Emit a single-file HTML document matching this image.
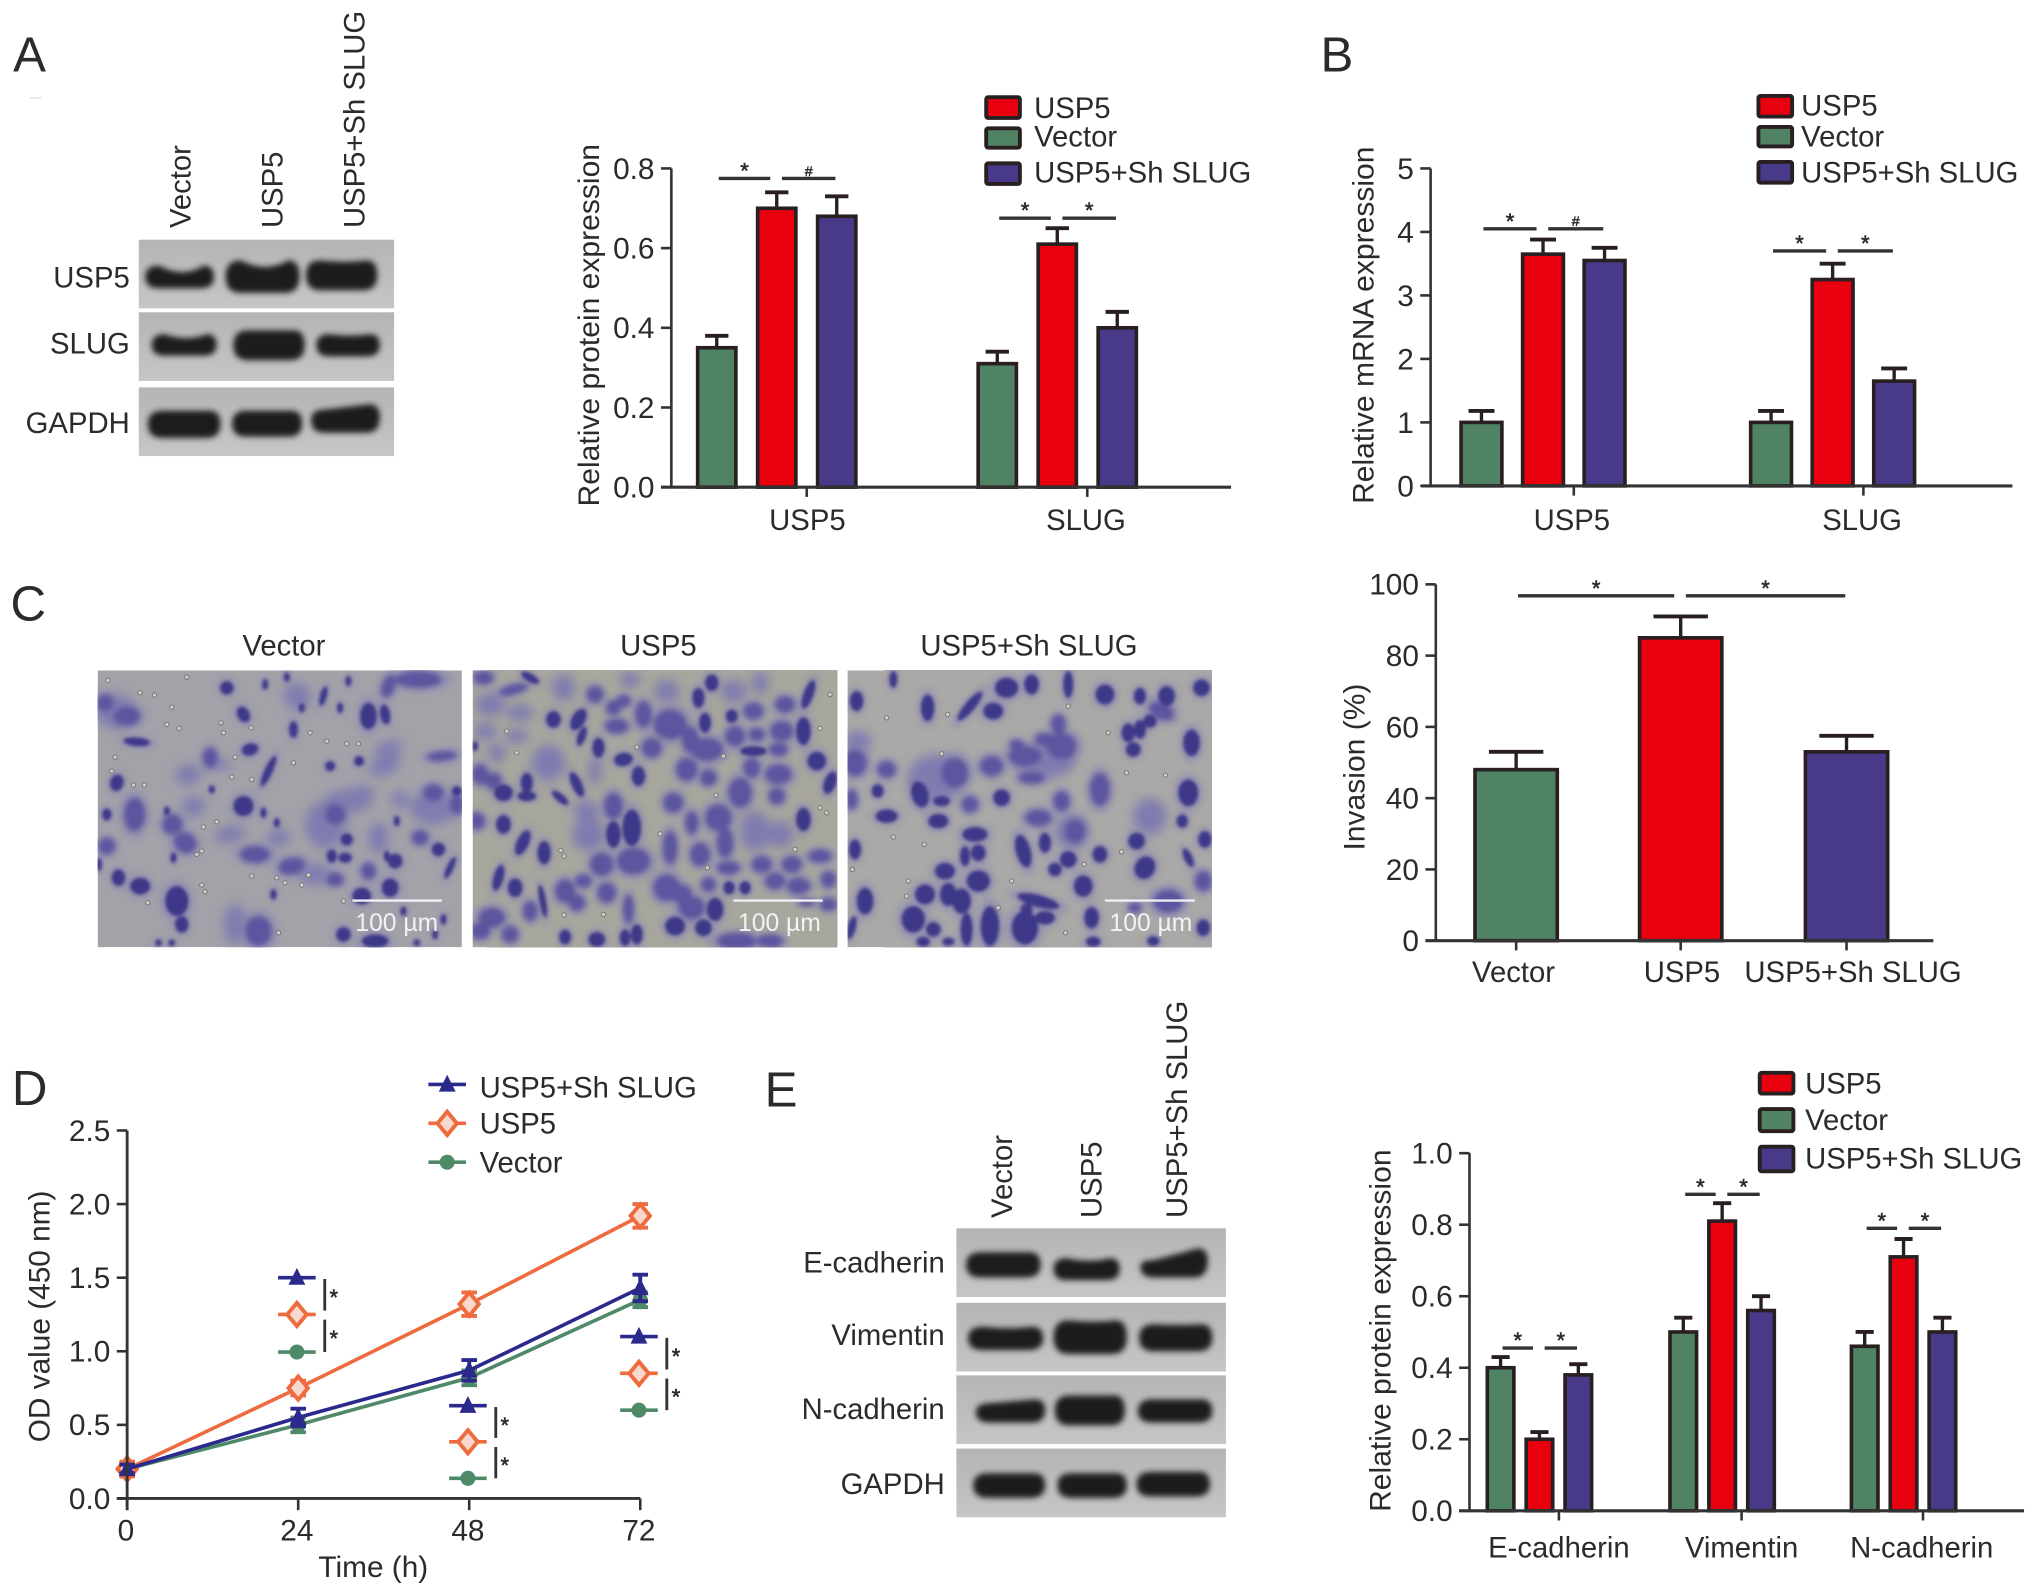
<!DOCTYPE html>
<html>
<head>
<meta charset="utf-8">
<title>USP5 SLUG figure</title>
<style>
html,body{margin:0;padding:0;background:#fff;}
svg{display:block;}
text{font-family:"Liberation Sans",sans-serif;fill:#2b2b2b;}
</style>
</head>
<body>
<svg id="fig" xmlns="http://www.w3.org/2000/svg" width="2032" height="1595" viewBox="0 0 1568 1231">
<defs>
<filter id="blur-blot" x="-20%" y="-50%" width="140%" height="200%"><feGaussianBlur stdDeviation="2.2"/></filter>
<filter id="blur-dark"><feGaussianBlur stdDeviation="5"/></filter>
<filter id="blur-mid"><feGaussianBlur stdDeviation="8"/></filter>
<filter id="blur-light"><feGaussianBlur stdDeviation="16"/></filter>
<filter id="blur-halo"><feGaussianBlur stdDeviation="10"/></filter>
<linearGradient id="blot-bg" x1="0" y1="0" x2="0" y2="1"><stop offset="0" stop-color="#b4b4b4"/><stop offset="0.5" stop-color="#bdbdbd"/><stop offset="1" stop-color="#c6c6c6"/></linearGradient>
<clipPath id="micro-clip"><rect x="8" y="8" width="1092" height="830"/></clipPath>
</defs>
<text x="10" y="55" font-size="38">A</text>
<text x="1019" y="55" font-size="38">B</text>
<text x="8" y="479" font-size="38">C</text>
<text x="9" y="853" font-size="38">D</text>
<text x="590" y="854" font-size="38">E</text>
<rect x="23" y="75" width="9" height="1" fill="#ddd"/>
<text x="219" y="506" font-size="22.6" text-anchor="middle">Vector</text>
<text x="508" y="506" font-size="22.6" text-anchor="middle">USP5</text>
<text x="794" y="506" font-size="22.6" text-anchor="middle">USP5+Sh SLUG</text>
</svg>
<script>
// ---------- Panel A values ----------
const aCategories = ['USP5', 'SLUG'];
const aTickLabels = ['0.0', '0.2', '0.4', '0.6', '0.8'];
const aTickValues = [0, 0.2, 0.4, 0.6, 0.8];
const aVector = [0.35, 0.31];
const aUsp5 = [0.70, 0.61];
const aSh = [0.68, 0.40];
const aVectorErr = [0.03, 0.03];
const aUsp5Err = [0.04, 0.04];
const aShErr = [0.05, 0.04];
const aSigLevels = [0.775, 0.675];
const aSigMarks = [['*', '#'], ['*', '*']];
// ---------- Panel B values ----------
const bCategories = ['USP5', 'SLUG'];
const bTickLabels = ['0', '1', '2', '3', '4', '5'];
const bTickValues = [0, 1, 2, 3, 4, 5];
const bVector = [1.0, 1.0];
const bUsp5 = [3.65, 3.25];
const bSh = [3.55, 1.65];
const bVectorErr = [0.18, 0.18];
const bUsp5Err = [0.23, 0.25];
const bShErr = [0.2, 0.2];
const bSigLevels = [4.05, 3.7];
const bSigMarks = [['*', '#'], ['*', '*']];
// ---------- Panel C values ----------
const cCategories = ['Vector', 'USP5', 'USP5+Sh SLUG'];
const cTickLabels = ['0', '20', '40', '60', '80', '100'];
const cTickValues = [0, 20, 40, 60, 80, 100];
const cInvasion = [48, 85, 53];
const cInvasionErr = [5, 6, 4.5];
const cSigLevel = 96.8;
const cSigMarks = ['*', '*'];
// ---------- Panel D values ----------
const dTimes = [0, 24, 48, 72];
const dTickLabels = ['0.0', '0.5', '1.0', '1.5', '2.0', '2.5'];
const dTickValues = [0, 0.5, 1, 1.5, 2, 2.5];
const dVector = [0.20, 0.50, 0.82, 1.35];
const dUsp5 = [0.20, 0.75, 1.32, 1.92];
const dSh = [0.20, 0.55, 0.87, 1.43];
const dVectorErr = [0.03, 0.05, 0.05, 0.05];
const dUsp5Err = [0.05, 0.05, 0.08, 0.08];
const dShErr = [0.03, 0.06, 0.07, 0.09];
const dKeyTimes = [24, 48, 72];
const dKeySh = [1.50, 0.63, 1.10];
const dKeyUsp5 = [1.25, 0.385, 0.85];
const dKeyVector = [0.995, 0.137, 0.60];
// ---------- Panel E values ----------
const eCategories = ['E-cadherin', 'Vimentin', 'N-cadherin'];
const eTickLabels = ['0.0', '0.2', '0.4', '0.6', '0.8', '1.0'];
const eTickValues = [0, 0.2, 0.4, 0.6, 0.8, 1.0];
const eVector = [0.40, 0.50, 0.46];
const eUsp5 = [0.20, 0.81, 0.71];
const eSh = [0.38, 0.56, 0.50];
const eVectorErr = [0.03, 0.04, 0.04];
const eUsp5Err = [0.02, 0.05, 0.05];
const eShErr = [0.03, 0.04, 0.04];
const eSigLevels = [0.455, 0.885, 0.79];
const eSigMarks = [['*', '*'], ['*', '*'], ['*', '*']];

const GREEN = '#4f8363', RED = '#e8000f', BLUE = '#483a88', EDGE = '#2a1f20', AXIS = '#333';
const NS = 'http://www.w3.org/2000/svg';
const fig = document.getElementById('fig');

function mk(tag, attrs, parent) {
  const n = document.createElementNS(NS, tag);
  for (const k in attrs) n.setAttribute(k, attrs[k]);
  (parent || fig).appendChild(n);
  return n;
}
function txt(str, attrs, parent) {
  const n = mk('text', attrs, parent);
  n.textContent = str;
  return n;
}

function drawLegend(items, parent) {
  items.forEach(function (it) {
    const sw = mk('rect', {x: it.x, y: it.y, width: it.w, height: it.h, fill: it.color, stroke: EDGE, 'stroke-width': 3, rx: 1.5}, parent);
    
    
    const t = txt(it.label, {x: it.tx, y: it.ty, 'font-size': 22.6}, parent);
    
    
  });
}

function barChart(o) {
  const g = mk('g', {});
  
  
  const yFor = function (v) { return o.y0 + (v - o.vMin) * (o.yMax - o.y0) / (o.vMax - o.vMin); };

  o.series.forEach(function (s, si) {
    s.values.forEach(function (v, ci) {
      const color = o.single ? o.colors[ci] : s.color;
      const cx = o.ticksX[ci] + (o.single ? 0 : (si - 1.5) * o.step);
      const top = yFor(v);
      const errTop = yFor(v + s.errs[ci]);
      const stem = mk('line', {x1: cx, x2: cx, y1: top, y2: errTop, stroke: EDGE, 'stroke-width': 2.6}, g);
      
      
      const cap = mk('line', {x1: cx - o.cap, x2: cx + o.cap, y1: errTop, y2: errTop, stroke: EDGE, 'stroke-width': 3}, g);
      
      
      const bar = mk('rect', {x: cx - o.barW / 2, y: top, width: o.barW, height: o.y0 - top, fill: color, stroke: EDGE, 'stroke-width': 2.8}, g);
      
      
    });
  });

  const yAxis = mk('line', {x1: o.axisX, x2: o.axisX, y1: yFor(o.vMax), y2: o.y0, stroke: AXIS, 'stroke-width': 2}, g);
  
  
  const xAxis = mk('line', {x1: o.xStart, x2: o.xEnd, y1: o.y0, y2: o.y0, stroke: AXIS, 'stroke-width': 2.4}, g);
  
  

  o.tickValues.forEach(function (v, i) {
    const y = yFor(v);
    const t = mk('line', {x1: o.axisX - 8, x2: o.axisX, y1: y, y2: y, stroke: AXIS, 'stroke-width': 2}, g);
    
    
    const l = txt(o.tickLabels[i], {x: o.axisX - 13, y: y + 8, 'font-size': 23, 'text-anchor': 'end'}, g);
    
    
  });
  o.categories.forEach(function (c, i) {
    const t = mk('line', {x1: o.ticksX[i], x2: o.ticksX[i], y1: o.y0, y2: o.y0 + 7.5, stroke: AXIS, 'stroke-width': 2}, g);
    
    
    const l = txt(c, {x: o.labelX[i], y: o.labelY, 'font-size': 22.6, 'text-anchor': 'middle'}, g);
    
    
  });
  const title = txt(o.title, {transform: 'translate(' + o.titleX + ' ' + o.titleY + ') rotate(-90)', 'font-size': 23.2, 'text-anchor': 'middle'}, g);
  
  

  o.sigGroups.forEach(function (sg) {
    const y = yFor(sg.level);
    const spans = [[sg.c0 + 1.5, sg.c1 - 5], [sg.c1 + 4, sg.c2 - 1]];
    spans.forEach(function (sp, k) {
      const line = mk('line', {x1: sp[0], x2: sp[1], y1: y, y2: y, stroke: AXIS, 'stroke-width': 2.6}, g);
      
      
      const m = txt(sg.marks[k], {x: (sp[0] + sp[1]) / 2, y: y - (sg.marks[k] === '#' ? 2 : 0), 'font-size': sg.marks[k] === '#' ? 11 : 17, 'text-anchor': 'middle', stroke: '#2b2b2b', 'stroke-width': 0.4}, g);
      
      
    });
  });
  return g;
}

function centers(tick, step) { return {c0: tick - 1.5 * step, c1: tick - 0.5 * step, c2: tick + 0.5 * step}; }
function sigs(ticks, step, levels, marks) {
  return ticks.map(function (t, i) {
    const c = centers(t, step);
    return {c0: c.c0, c1: c.c1, c2: c.c2, level: levels[i], marks: marks[i]};
  });
}

// Panel A chart
const aTicksX = [622.5, 839];
barChart({
  name: 'panel-a-protein-chart', categories: aCategories, tickLabels: aTickLabels, tickValues: aTickValues,
  vMin: 0, vMax: 0.8, y0: 376, yMax: 130, axisX: 518, xStart: 510, xEnd: 950, ticksX: aTicksX, labelX: [623, 838], labelY: 409,
  step: 46.3, barW: 29.5, cap: 9, title: 'Relative protein expression', titleX: 462, titleY: 251,
  series: [{values: aVector, errs: aVectorErr, color: GREEN}, {values: aUsp5, errs: aUsp5Err, color: RED}, {values: aSh, errs: aShErr, color: BLUE}],
  sigGroups: sigs(aTicksX, 46.3, aSigLevels, aSigMarks)
});
drawLegend([
  {x: 761, y: 75, w: 26, h: 16, color: RED, label: 'USP5', tx: 798, ty: 91},
  {x: 761, y: 99, w: 26, h: 15, color: GREEN, label: 'Vector', tx: 798, ty: 113},
  {x: 761, y: 126, w: 26, h: 16, color: BLUE, label: 'USP5+Sh SLUG', tx: 798, ty: 141}
]);

// Panel B chart
const bTicksX = [1214.5, 1438];
barChart({
  name: 'panel-b-mrna-chart', categories: bCategories, tickLabels: bTickLabels, tickValues: bTickValues,
  vMin: 0, vMax: 5, y0: 375, yMax: 130, axisX: 1104, xStart: 1097, xEnd: 1553, ticksX: bTicksX, labelX: [1213, 1437], labelY: 409,
  step: 47.5, barW: 31.5, cap: 10, title: 'Relative mRNA expression', titleX: 1060, titleY: 251,
  series: [{values: bVector, errs: bVectorErr, color: GREEN}, {values: bUsp5, errs: bUsp5Err, color: RED}, {values: bSh, errs: bShErr, color: BLUE}],
  sigGroups: sigs(bTicksX, 47.5, bSigLevels, bSigMarks)
});
drawLegend([
  {x: 1357, y: 74, w: 26, h: 16, color: RED, label: 'USP5', tx: 1390, ty: 89},
  {x: 1357, y: 98, w: 26, h: 15, color: GREEN, label: 'Vector', tx: 1390, ty: 113},
  {x: 1357, y: 125, w: 26, h: 16, color: BLUE, label: 'USP5+Sh SLUG', tx: 1390, ty: 141}
]);

// Panel C chart
const cTicksX = [1170, 1297, 1425];
barChart({
  name: 'panel-c-invasion-chart', categories: cCategories, tickLabels: cTickLabels, tickValues: cTickValues,
  vMin: 0, vMax: 100, y0: 726, yMax: 451, axisX: 1108, xStart: 1100, xEnd: 1492, ticksX: cTicksX, labelX: [1168, 1298, 1430], labelY: 758,
  step: 0, barW: 63.5, cap: 21, single: true, colors: [GREEN, RED, BLUE], title: 'Invasion (%)', titleX: 1053, titleY: 592,
  series: [{values: cInvasion, errs: cInvasionErr}],
  sigGroups: [{c0: cTicksX[0], c1: cTicksX[1], c2: cTicksX[2], level: cSigLevel, marks: cSigMarks}]
});

// Panel E chart
const eTicksX = [1203, 1344, 1484];
barChart({
  name: 'panel-e-protein-chart', categories: eCategories, tickLabels: eTickLabels, tickValues: eTickValues,
  vMin: 0, vMax: 1, y0: 1166, yMax: 890, axisX: 1134, xStart: 1126, xEnd: 1562, ticksX: eTicksX, labelX: [1203, 1344, 1483], labelY: 1202,
  step: 30, barW: 20.5, cap: 7, title: 'Relative protein expression', titleX: 1073, titleY: 1027,
  series: [{values: eVector, errs: eVectorErr, color: GREEN}, {values: eUsp5, errs: eUsp5Err, color: RED}, {values: eSh, errs: eShErr, color: BLUE}],
  sigGroups: sigs(eTicksX, 30, eSigLevels, eSigMarks)
});
drawLegend([
  {x: 1358, y: 828, w: 26, h: 16, color: RED, label: 'USP5', tx: 1393, ty: 844},
  {x: 1358, y: 856, w: 26, h: 17, color: GREEN, label: 'Vector', tx: 1393, ty: 872},
  {x: 1358, y: 885, w: 26, h: 19, color: BLUE, label: 'USP5+Sh SLUG', tx: 1393, ty: 902}
]);

// Panel D line chart
(function () {
  const g = mk('g', {});
  
  
  const xOf = function (t) { return 98 + t * (494 - 98) / 72; };
  const yOf = function (v) { return 1156.5 - v * (1156.5 - 872.5) / 2.5; };
  const SH = '#2b2a8c', OR = '#ee6b3e', VE = '#4f8a68';

  function marker(kind, x, y, parent) {
    if (kind === 'tri') {
      const m = mk('polygon', {points: (x - 6.5) + ',' + (y + 5.5) + ' ' + (x + 6.5) + ',' + (y + 5.5) + ' ' + x + ',' + (y - 7.5), fill: SH}, parent);
      
      
    } else if (kind === 'dia') {
      const m = mk('polygon', {points: (x - 7.5) + ',' + y + ' ' + x + ',' + (y - 9) + ' ' + (x + 7.5) + ',' + y + ' ' + x + ',' + (y + 9), fill: '#f9d9cd', stroke: OR, 'stroke-width': 3}, parent);
      
      
    } else {
      const m = mk('circle', {cx: x, cy: y, r: 5.8, fill: VE}, parent);
      
      
    }
  }
  const series = [
    {vals: dVector, errs: dVectorErr, color: VE, kind: 'cir'},
    {vals: dUsp5, errs: dUsp5Err, color: OR, kind: 'dia'},
    {vals: dSh, errs: dShErr, color: SH, kind: 'tri'}
  ];
  series.forEach(function (s) {
    const path = mk('polyline', {points: dTimes.map(function (t, i) { return xOf(t) + ',' + yOf(s.vals[i]); }).join(' '), fill: 'none', stroke: s.color, 'stroke-width': 2.8}, g);
    
    
    dTimes.forEach(function (t, i) {
      const x = xOf(t), hi = yOf(s.vals[i] + s.errs[i]), lo = yOf(s.vals[i] - s.errs[i]);
      const e = mk('path', {d: 'M' + (x - 6) + ' ' + hi + 'H' + (x + 6) + 'M' + x + ' ' + hi + 'V' + lo + 'M' + (x - 6) + ' ' + lo + 'H' + (x + 6), stroke: s.color, 'stroke-width': 3, fill: 'none'}, g);
      
      
      marker(s.kind, x, yOf(s.vals[i]), g);
    });
  });

  const yAxis = mk('line', {x1: 98, x2: 98, y1: yOf(2.5), y2: yOf(0) + 9, stroke: AXIS, 'stroke-width': 2.2}, g);
  
  
  const xAxis = mk('line', {x1: 90, x2: xOf(72), y1: yOf(0), y2: yOf(0), stroke: AXIS, 'stroke-width': 2.2}, g);
  
  
  dTickValues.forEach(function (v, i) {
    const y = yOf(v);
    const t = mk('line', {x1: 90, x2: 98, y1: y, y2: y, stroke: AXIS, 'stroke-width': 2}, g);
    
    
    const l = txt(dTickLabels[i], {x: 85, y: y + 8, 'font-size': 23, 'text-anchor': 'end'}, g);
    
    
  });
  dTimes.forEach(function (tv) {
    const x = xOf(tv);
    const t = mk('line', {x1: x, x2: x, y1: yOf(0), y2: yOf(0) + 9, stroke: AXIS, 'stroke-width': 2}, g);
    
    
    const l = txt(String(tv), {x: x - 1, y: 1189, 'font-size': 23, 'text-anchor': 'middle'}, g);
    
    
  });
  const xt = txt('Time (h)', {x: 288, y: 1217, 'font-size': 23, 'text-anchor': 'middle'}, g);
  
  
  const yt = txt('OD value (450 nm)', {transform: 'translate(38 1016) rotate(-90)', 'font-size': 23, 'text-anchor': 'middle'}, g);
  
  

  function keyRow(kind, color, x, y) {
    const l = mk('line', {x1: x - 14.5, x2: x + 14.5, y1: y, y2: y, stroke: color, 'stroke-width': 2.8}, g);
    
    
    marker(kind, x, y, g);
  }
  dKeyTimes.forEach(function (t, i) {
    const x = xOf(t) - 1;
    const ys = [yOf(dKeySh[i]), yOf(dKeyUsp5[i]), yOf(dKeyVector[i])];
    keyRow('tri', SH, x, ys[0]);
    keyRow('dia', OR, x, ys[1]);
    keyRow('cir', VE, x, ys[2]);
    [[ys[0] + 1, ys[1] - 3], [ys[1] + 4, ys[2]]].forEach(function (sp) {
      const b = mk('line', {x1: x + 21.5, x2: x + 21.5, y1: sp[0], y2: sp[1], stroke: AXIS, 'stroke-width': 2.2}, g);
      
      
      const s = txt('*', {x: x + 28.5, y: (sp[0] + sp[1]) / 2 + 8, 'font-size': 17, 'text-anchor': 'middle', stroke: '#2b2b2b', 'stroke-width': 0.4}, g);
      
      
    });
  });

  const legendRows = [
    {kind: 'tri', color: SH, label: 'USP5+Sh SLUG', y: 837, ty: 847},
    {kind: 'dia', color: OR, label: 'USP5', y: 867, ty: 875},
    {kind: 'cir', color: VE, label: 'Vector', y: 897, ty: 905}
  ];
  legendRows.forEach(function (r) {
    keyRow(r.kind, r.color, 345, r.y);
    const t = txt(r.label, {x: 370, y: r.ty, 'font-size': 22.6}, g);
    
    
  });
})();

// ---------- Western blots ----------
function bandPath(b) {
  const x0 = b[0], x1 = b[1], y0 = b[2], y1 = b[3], dip = b[4] || 0, tilt = b[5] || 0;
  const w = x1 - x0, ym = (y0 + y1) / 2;
  return 'M' + x0 + ' ' + (ym + tilt * .3) +
    'Q' + x0 + ' ' + (y0 + tilt) + ' ' + (x0 + w * .2) + ' ' + (y0 + tilt) +
    'Q' + (x0 + w * .55) + ' ' + (y0 + dip * 2 + tilt * .5) + ' ' + (x1 - w * .15) + ' ' + y0 +
    'Q' + x1 + ' ' + y0 + ' ' + x1 + ' ' + (ym - tilt * .2) +
    'Q' + x1 + ' ' + y1 + ' ' + (x1 - w * .2) + ' ' + y1 +
    'L' + (x0 + w * .2) + ' ' + y1 +
    'Q' + x0 + ' ' + y1 + ' ' + x0 + ' ' + (ym + tilt * .3) + 'Z';
}
function blot(name, x, w, rows, labelRight) {
  const g = mk('g', {});
  
  
  rows.forEach(function (r) {
    const bg = mk('rect', {x: x, y: r.y, width: w, height: r.h, fill: 'url(#blot-bg)'}, g);
    
    
    r.bands.forEach(function (b) {
      const p = mk('path', {d: bandPath(b), fill: '#1d1d1f', filter: 'url(#blur-blot)'}, g);
      
      
    });
    const l = txt(r.label, {x: labelRight, y: r.ty, 'font-size': 22.6, 'text-anchor': 'end'}, g);
    
    
  });
}
blot('western-blot-a', 107, 197, [
  {label: 'USP5', y: 185, h: 53, ty: 222, bands: [[112, 165, 205, 222.5, 5], [174, 231, 201, 226, 5], [236, 291, 201, 224, 1]]},
  {label: 'SLUG', y: 241, h: 53, ty: 273, bands: [[117, 167, 258, 274.5, 3], [180, 235, 255, 278, 0], [244, 293, 258, 275, 1]]},
  {label: 'GAPDH', y: 299, h: 53, ty: 334, bands: [[114, 170, 317, 338, 0], [179, 233, 317, 337, 0], [240, 293, 312, 334, 0, 4]]}
], 100);
blot('western-blot-e', 738, 208, [
  {label: 'E-cadherin', y: 948, h: 53, ty: 982, bands: [[745.5, 803, 966.5, 986, 0], [813, 864, 971, 988, 2], [880, 932, 963.5, 986, 0, 9]]},
  {label: 'Vimentin', y: 1005.5, h: 53, ty: 1038, bands: [[747, 805, 1024, 1042, 1], [813, 869.5, 1019, 1045, 1], [879, 935.5, 1022, 1043, 0.5]]},
  {label: 'N-cadherin', y: 1061.5, h: 53, ty: 1095, bands: [[753, 806.5, 1080, 1098, 0, 3], [814, 868, 1077, 1100, 0], [878, 935.5, 1080, 1098, 0]]},
  {label: 'GAPDH', y: 1118, h: 53, ty: 1153, bands: [[751, 806.5, 1137, 1156, 0], [816, 869.5, 1137, 1156, 0], [877, 933.6, 1136, 1155, 0]]}
], 729);

const laneLabels = [
  ['Vector', 147, 176], ['USP5', 218, 176], ['USP5+Sh SLUG', 281, 176],
  ['Vector', 781, 940], ['USP5', 850, 940], ['USP5+Sh SLUG', 916, 940]
];
laneLabels.forEach(function (a) {
  const t = txt(a[0], {transform: 'translate(' + a[1] + ' ' + a[2] + ') rotate(-90)', 'font-size': 22.6}, fig);
  
  
});

// ---------- Micrographs (cell centre x, y, radius x, radius y, rotation) ----------
const micro1Dark = [[395,60,20,20,0],[685,85,10,30,15],[445,140,18,25,-30],[595,185,13,25,0],[125,222,40,13,5],[820,145,25,40,0],[870,140,15,30,-10],[465,245,25,18,-15],[520,310,12,50,25],[705,295,15,15,0],[792,280,15,15,0],[65,345,20,25,15],[445,415,30,30,0],[70,630,20,25,0],[135,655,30,25,0],[245,700,35,45,0],[260,770,20,25,0],[710,565,15,20,0],[750,570,20,15,0],[755,515,18,18,0],[900,580,22,22,0],[885,660,25,28,0],[800,685,28,25,0],[1030,545,20,20,0],[1065,600,10,35,25],[745,800,22,22,0],[840,820,40,20,0],[12,590,8,20,0],[510,50,9,16,0],[735,120,9,16,0],[760,40,9,16,0],[575,28,9,14,0],[620,120,9,14,0],[905,460,9,16,0],[875,565,9,16,0],[925,730,9,14,0],[1045,755,9,16,0],[1020,800,9,14,0],[965,825,10,10,0],[230,825,10,10,0],[190,825,10,10,0],[535,680,9,16,0],[235,570,9,16,0],[350,365,9,12,0],[505,435,9,16,0],[545,465,9,14,0],[215,430,9,14,0],[35,440,14,18,0],[1085,370,15,15,0]];
const micro1Mid = [[95,145,40,28,0],[30,105,25,25,0],[880,55,20,35,20],[970,35,70,25,0],[118,440,32,50,0],[232,470,30,30,0],[270,525,35,30,30],[480,560,45,25,0],[590,595,40,25,-10],[35,535,25,25,0],[720,440,30,30,0],[820,610,22,25,0],[720,635,25,20,0],[975,510,25,22,0],[1085,410,20,30,0],[490,790,40,45,0],[1040,265,45,15,-5],[345,270,22,30,0],[1015,375,30,25,0]];
const micro1Light = [[60,130,60,50,0],[605,85,40,40,0],[280,320,40,30,-20],[375,290,35,15,15],[870,290,50,30,-30],[880,240,45,20,-15],[295,415,35,30,0],[405,500,45,25,-10],[550,510,35,25,0],[690,470,60,70,0],[760,400,70,35,0],[915,395,25,25,0],[1015,420,70,50,0],[420,770,35,60,0],[800,375,40,20,0],[850,510,30,45,0],[660,620,50,30,0]];
const micro1Rings = [[38,38],[275,28],[135,75],[178,82],[230,118],[215,170],[252,182],[378,165],[385,195],[468,180],[645,195],[695,220],[755,228],[790,228],[60,268],[420,268],[595,285],[410,328],[470,335],[115,352],[148,352],[325,478],[365,462],[305,560],[320,550],[470,625],[545,630],[570,645],[620,652],[640,622],[320,652],[330,672],[158,705],[745,700],[550,795],[50,310]];

const micro2Dark = [[725,45,20,25,0],[325,155,20,35,30],[335,205,12,30,20],[250,155,22,25,0],[385,240,18,30,0],[460,275,28,20,-10],[505,325,20,30,0],[100,375,28,25,0],[170,385,28,15,0],[170,345,18,30,0],[270,390,30,12,40],[320,350,15,40,-25],[485,480,28,55,0],[430,500,22,40,0],[100,470,22,28,0],[158,525,18,40,25],[222,555,20,35,0],[85,630,15,40,15],[135,660,22,28,0],[218,700,10,50,-10],[285,808,18,22,0],[380,815,25,22,0],[465,810,16,25,0],[500,800,18,30,0],[615,775,30,28,0],[700,780,25,25,0],[735,725,25,35,0],[777,660,17,20,0],[825,660,17,20,0],[1000,455,22,35,0],[1015,80,15,45,20],[1040,280,28,28,0],[1080,345,18,35,20],[685,90,18,30,0],[705,165,18,30,0],[785,145,18,20,0],[850,250,40,15,0],[1000,190,22,42,0],[15,235,8,15,0],[180,30,30,12,30]];
const micro2Mid = [[610,405,30,30,0],[40,30,30,20,0],[130,65,45,15,-15],[375,80,25,25,0],[460,100,22,18,0],[430,120,22,22,0],[440,175,35,22,0],[520,140,25,40,0],[600,170,50,45,0],[660,215,25,40,0],[545,240,30,30,0],[710,245,50,35,0],[650,305,32,35,0],[715,330,25,25,0],[850,130,30,25,0],[935,190,35,30,0],[945,110,30,25,0],[795,205,30,30,0],[860,200,25,20,0],[925,245,28,20,0],[845,300,25,30,0],[925,320,40,30,0],[810,375,35,45,0],[920,385,25,25,0],[745,450,40,40,0],[665,465,20,35,0],[765,525,25,45,0],[690,560,30,35,0],[600,540,22,50,0],[775,600,35,20,0],[875,590,30,25,0],[965,590,30,25,0],[1050,565,35,20,0],[915,640,30,25,0],[985,655,35,25,0],[1075,635,22,25,0],[1075,710,25,20,0],[1010,705,25,10,0],[490,580,50,40,0],[395,590,35,35,0],[430,415,28,40,0],[340,640,25,20,0],[285,670,30,35,0],[320,705,25,25,0],[410,675,28,30,0],[180,730,22,30,0],[475,725,16,45,0],[590,660,40,40,0],[635,680,30,30,0],[665,720,40,35,0],[715,650,22,22,0],[20,460,25,25,0],[70,340,25,25,0],[30,320,25,30,0],[65,750,40,30,0],[120,800,25,25,0],[30,790,30,25,0],[800,820,60,25,0],[900,820,40,20,0]];
const micro2Light = [[60,110,45,35,0],[150,135,40,25,0],[45,190,35,25,0],[140,205,35,22,0],[280,60,35,40,0],[480,35,30,25,0],[590,70,38,35,0],[790,70,40,35,0],[870,45,25,35,0],[235,285,50,55,0],[80,255,25,30,0],[375,310,20,40,0],[355,500,50,50,0],[855,490,45,60,0],[350,430,40,30,0],[930,500,40,40,0]];
const micro2Rings = [[500,238],[760,265],[738,382],[1050,182],[1080,80],[570,498],[272,548],[282,565],[712,600],[400,740],[282,742],[110,190],[140,255],[1050,420],[1070,435],[975,545]];

const micro3Dark = [[35,100,20,30,0],[145,35,12,25,0],[248,120,20,40,0],[375,115,15,55,40],[485,60,35,30,0],[445,130,30,25,0],[560,50,22,30,0],[780,80,28,30,0],[885,85,18,25,0],[965,85,25,30,0],[1070,60,25,25,0],[670,50,15,40,0],[1040,225,25,40,0],[1030,375,30,40,0],[865,245,22,22,0],[850,195,20,28,0],[885,185,18,28,0],[915,160,20,20,0],[98,370,18,20,0],[225,380,25,40,-15],[125,445,33,20,0],[280,460,30,22,0],[290,400,25,15,0],[470,390,25,25,0],[390,500,38,22,0],[360,565,15,30,0],[400,555,22,25,0],[300,610,30,25,0],[400,640,35,32,0],[535,550,22,50,-15],[600,525,18,30,0],[670,575,25,25,0],[630,605,20,20,0],[765,560,22,25,0],[875,520,25,25,0],[900,600,30,35,30],[1030,570,12,30,-25],[1012,460,17,20,0],[1080,515,20,25,0],[715,655,28,32,0],[740,750,22,32,0],[60,700,25,40,0],[240,680,30,30,0],[310,680,25,35,0],[350,700,28,38,0],[205,755,35,40,0],[265,785,22,22,0],[365,785,18,50,0],[435,775,28,60,0],[540,780,40,50,0],[580,700,65,18,15],[600,750,30,20,0],[545,725,18,18,0],[745,822,22,15,0],[1075,780,20,25,0],[30,545,18,30,0],[20,780,12,35,15],[310,822,18,12,0],[235,822,20,15,0],[925,820,18,15,0]];
const micro3Mid = [[30,285,35,40,0],[125,305,28,25,0],[20,395,18,30,0],[515,230,22,15,0],[540,265,50,30,0],[650,235,45,40,0],[600,215,30,20,0],[640,170,22,30,0],[560,330,40,18,0],[580,450,40,25,0],[650,400,25,30,0],[765,365,30,50,0],[690,490,30,35,0],[330,315,40,45,0],[440,295,35,30,0],[375,410,25,25,0],[950,130,40,25,25],[970,700,45,35,0],[1075,640,25,30,0],[870,720,20,15,0]];
const micro3Light = [[40,220,40,30,0],[270,330,80,70,0],[915,445,50,55,0],[680,490,50,50,0],[600,280,90,50,0]];
const micro3Rings = [[125,150],[308,140],[290,258],[790,195],[845,315],[962,322],[145,508],[238,530],[22,605],[190,640],[185,685],[500,640],[460,720],[662,795],[830,552],[718,590],[670,115]];

function micrograph(name, px, py, bg, sets, rings, bar, label) {
  const g = mk('g', {transform: 'translate(' + px + ' ' + py + ') scale(' + (1 / 3.888) + ')', 'clip-path': 'url(#micro-clip)'});
  
  
  const r = mk('rect', {x: 0, y: 0, width: 1116, height: 852, fill: bg}, g);
  
  
  const halo = mk('g', {filter: 'url(#blur-halo)', opacity: 0.6}, g);
  
  
  sets.dark.concat(sets.mid).forEach(function (c) {
    const e = mk('ellipse', {cx: c[0], cy: c[1], rx: c[2] * 1.45, ry: c[3] * 1.45, fill: '#8884b6', transform: 'rotate(' + c[4] + ' ' + c[0] + ' ' + c[1] + ')'}, halo);
    
    
  });
  [[sets.light, '#7f7bb0', 'url(#blur-light)'], [sets.mid, '#5b549f', 'url(#blur-mid)'], [sets.dark, '#3e3788', 'url(#blur-dark)']].forEach(function (s) {
    const layer = mk('g', {filter: s[2]}, g);
    
    
    s[0].forEach(function (c) {
      const e = mk('ellipse', {cx: c[0], cy: c[1], rx: c[2], ry: c[3], fill: s[1], transform: 'rotate(' + c[4] + ' ' + c[0] + ' ' + c[1] + ')'}, layer);
      
      
    });
  });
  rings.forEach(function (c) {
    const e = mk('circle', {cx: c[0], cy: c[1], r: 6.5, fill: '#cfcfcc', stroke: '#777775', 'stroke-width': 3}, g);
    
    
  });
  const sb = mk('rect', {x: bar[0], y: 695, width: bar[1] - bar[0], height: 7, fill: '#f0eff5'}, g);
  
  
  const st = txt('100 µm', {x: label, y: 790, 'font-size': 74, 'text-anchor': 'middle', style: 'fill:#f3f2f6'}, g);
  
  
}
micrograph('micrograph-vector', 73.3, 515.4, '#a3a2a9', {light: micro1Light, mid: micro1Mid, dark: micro1Dark}, micro1Rings, [772, 1040], 905);
micrograph('micrograph-usp5', 362.7, 515.4, '#a8a79e', {light: micro2Light, mid: micro2Mid, dark: micro2Dark}, micro2Rings, [790, 1058], 928);
micrograph('micrograph-usp5-sh-slug', 652, 515.4, '#aaa9a7', {light: micro3Light, mid: micro3Mid, dark: micro3Dark}, micro3Rings, [780, 1050], 918);
</script>
</body>
</html>
